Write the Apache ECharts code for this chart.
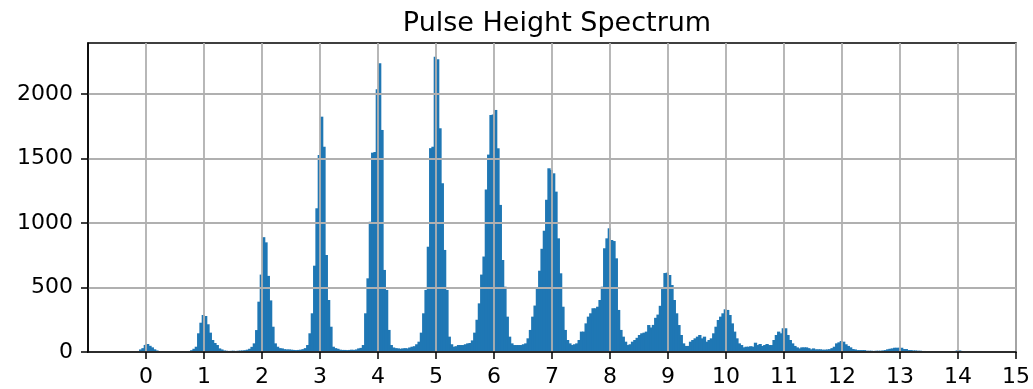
<!DOCTYPE html>
<html>
<head>
<meta charset="utf-8">
<script src="https://cdn.jsdelivr.net/npm/echarts@6/dist/echarts.min.js"></script>
<style>
  html, body { margin: 0; padding: 0; background: #fff; }
  #chart { width: 1033px; height: 389px; }
</style>
</head>
<body>
<div id="chart"></div>
<script>
  // histogram: 400 bins over [-1, 15), one row = one unit (25 bins)
  const binLo = -1
  const binHi = 15
  const counts = [
    0, 0, 0, 0, 0, 0, 0, 0, 0, 0, 0, 0, 0, 0, 0, 0, 0, 0, 0, 0, 3, 8, 20, 30, 55,
    62, 48, 36, 21, 12, 5, 3, 2, 2, 1, 1, 2, 1, 2, 2, 3, 3, 5, 8, 14, 25, 41, 145, 227, 287,
    279, 215, 150, 93, 70, 54, 28, 20, 12, 10, 8, 9, 10, 8, 10, 11, 12, 14, 18, 25, 40, 67, 170, 390, 600,
    890, 850, 590, 400, 196, 67, 41, 30, 28, 22, 20, 20, 18, 16, 15, 16, 18, 22, 30, 54, 145, 300, 669, 1114, 1527,
    1824, 1591, 752, 403, 196, 41, 30, 25, 18, 16, 16, 15, 16, 18, 16, 20, 28, 32, 54, 300, 571, 1010, 1545, 1550, 2036,
    2238, 1721, 636, 481, 171, 54, 35, 30, 28, 25, 28, 30, 28, 35, 41, 45, 60, 80, 150, 300, 481, 816, 1580, 1591, 2289,
    2269, 1734, 1308, 791, 481, 119, 60, 41, 45, 54, 54, 54, 60, 67, 70, 90, 150, 250, 377, 600, 740, 1260, 1530, 1837, 1840,
    1876, 1579, 1140, 713, 506, 274, 119, 67, 54, 54, 54, 54, 60, 67, 106, 171, 274, 360, 500, 630, 800, 940, 1180, 1424, 1411,
    1385, 1243, 881, 610, 351, 171, 93, 67, 54, 60, 67, 93, 158, 158, 222, 274, 300, 339, 339, 351, 403, 506, 804, 881, 959,
    868, 860, 726, 326, 171, 119, 80, 54, 60, 80, 93, 110, 132, 145, 150, 158, 209, 190, 210, 265, 290, 358, 488, 612, 615,
    597, 519, 403, 300, 209, 132, 67, 47, 47, 80, 93, 106, 119, 132, 106, 119, 80, 93, 106, 145, 196, 248, 274, 300, 331,
    326, 287, 222, 158, 106, 67, 54, 36, 41, 41, 45, 41, 72, 54, 62, 47, 54, 62, 54, 54, 93, 132, 158, 145, 184,
    184, 132, 93, 67, 47, 36, 28, 36, 36, 36, 30, 21, 28, 21, 21, 21, 18, 18, 20, 22, 30, 41, 67, 75, 85,
    80, 60, 47, 36, 23, 20, 15, 15, 15, 15, 10, 10, 10, 8, 10, 10, 10, 12, 15, 21, 25, 28, 33, 33, 33,
    33, 23, 23, 15, 15, 12, 12, 10, 10, 8, 8, 6, 5, 4, 4, 3, 3, 3, 3, 4, 4, 5, 6, 8, 12,
    12, 8, 5, 3, 3, 2, 2, 2, 1, 1, 1, 1, 1, 1, 1, 1, 1, 0, 1, 0, 0, 0, 5, 0, 0,
  ]
  const xTicks = [0, 1, 2, 3, 4, 5, 6, 7, 8, 9, 10, 11, 12, 13, 14, 15]
  const yTicks = [0, 500, 1000, 1500, 2000]

  const binWidth = (binHi - binLo) / counts.length
  const bins = counts.map((c, i) => [binLo + i * binWidth, binLo + (i + 1) * binWidth, c])

  const myChart = echarts.init(document.getElementById('chart'))
  const font = 'DejaVu Sans'

  const option = {
    animation: false,
    backgroundColor: '#fff',
    title: {
      text: 'Pulse Height Spectrum',
      left: 552,
      top: 5,
      textAlign: 'center',
      textStyle: { fontFamily: font, fontSize: 27, fontWeight: 'normal', color: '#000' },
    },
    grid: {
      left: 88,
      right: 16,
      top: 43,
      bottom: 37,
      show: true,
      borderColor: '#000',
      borderWidth: 1.5,
      backgroundColor: 'transparent',
    },
    xAxis: {
      type: 'value',
      min: binLo,
      max: binHi,
      interval: 1,
      z: 5,
      axisLine: { show: true, onZero: false, lineStyle: { color: '#000', width: 1.5 } },
      axisTick: { show: true, length: 7, customValues: xTicks, lineStyle: { color: '#000', width: 1.5 } },
      axisLabel: {
        customValues: xTicks,
        margin: 14,
        color: '#000',
        fontFamily: font,
        fontSize: 22,
        formatter: v => String(v),
      },
      splitLine: { show: true, lineStyle: { color: '#b0b0b0', width: 1.8 } },
    },
    yAxis: {
      type: 'value',
      min: 0,
      max: 2395,
      interval: 500,
      z: 5,
      axisLine: { show: true, onZero: false, lineStyle: { color: '#000', width: 1.5 } },
      axisTick: { show: true, length: 7, customValues: yTicks, lineStyle: { color: '#000', width: 1.5 } },
      axisLabel: {
        customValues: yTicks,
        margin: 15,
        color: '#000',
        fontFamily: font,
        fontSize: 22,
        formatter: v => String(v),
      },
      splitLine: { show: true, lineStyle: { color: '#b0b0b0', width: 1.8 } },
    },
    series: [
      {
        type: 'custom',
        clip: true,
        encode: { x: [0, 1], y: 2 },
        data: bins,
        renderItem: function (params, api) {
          const top = api.coord([api.value(0), api.value(2)])
          const base = api.coord([api.value(1), 0])
          return {
            type: 'rect',
            shape: { x: top[0], y: top[1], width: base[0] - top[0] + 1, height: base[1] - top[1] },
            style: { fill: '#1f77b4' },
          }
        },
      },
    ],
  }

  myChart.setOption(option)
</script>
</body>
</html>
